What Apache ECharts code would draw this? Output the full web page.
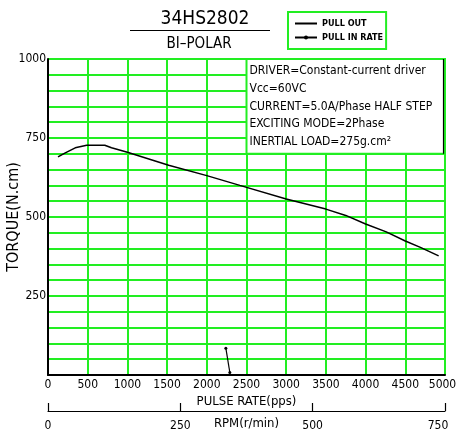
<!DOCTYPE html>
<html>
<head>
<meta charset="utf-8">
<script src="https://cdn.jsdelivr.net/npm/echarts@6/dist/echarts.min.js"></script>
<style>
html,body{margin:0;padding:0;background:#fff;}
#chart{width:456px;height:436px;}
</style>
</head>
<body>
<div id="chart"></div>
<script>
// ---- data ----
const pullOutPps    = [126, 218, 343, 487, 715, 800, 1000, 1520, 2000, 2416, 3000, 3500, 3750, 4000, 4260, 4500, 4690, 4920];
const pullOutTorque = [690, 703, 719, 727, 727, 719, 705, 664, 631, 600, 557, 525, 505, 478, 453, 424, 404, 377];
const pullInPps     = [2240, 2290];
const pullInTorque  = [85, 8];
const torqueTickLabels = [250, 500, 750, 1000];
const ppsTickLabels = [0, 500, 1000, 1500, 2000, 2500, 3000, 3500, 4000, 4500, 5000];
const rpmTickLabels = [0, 250, 500, 750];
const infoLines = [
  'DRIVER=Constant-current driver',
  'Vcc=60VC',
  'CURRENT=5.0A/Phase HALF STEP',
  'EXCITING MODE=2Phase',
  'INERTIAL LOAD=275g.cm\u00B2'
];
const infoBox = [[2500, 1000], [5000, 700]];
const infoBoxEdge = [[4982, 1000], [4982, 700]];

const FONT = "'DejaVu Sans Condensed','Liberation Sans',sans-serif";
const GREEN = '#22ee22';

const chart = echarts.init(document.getElementById('chart'), null, {renderer: 'canvas'});
chart.setOption({
  animation: false,
  backgroundColor: '#fff',
  textStyle: {fontFamily: FONT},
  graphic: [
    {type: 'text', style: {x: 205, y: 19, text: '34HS2802', font: '19px ' + FONT, fill: '#000', align: 'center', verticalAlign: 'middle'}},
    {type: 'line', shape: {x1: 130, y1: 30.5, x2: 270, y2: 30.5}, style: {stroke: '#000', lineWidth: 1.2}},
    {type: 'text', style: {x: 199, y: 44, text: 'BI\u2013POLAR', font: '15px ' + FONT, fill: '#000', align: 'center', verticalAlign: 'middle'}}
  ],
  legend: {
    left: 288, top: 12, orient: 'vertical',
    borderColor: GREEN, borderWidth: 2, padding: [7, 3, 7, 6],
    itemWidth: 22, itemHeight: 5, itemGap: 5,
    textStyle: {fontSize: 9, fontWeight: 'bold', color: '#000', fontFamily: FONT},
    data: [
      {name: 'PULL OUT', itemStyle: {color: 'rgba(0,0,0,0)', borderColor: 'rgba(0,0,0,0)', borderWidth: 0}},
      {name: 'PULL IN RATE'}
    ]
  },
  grid: {left: 48, right: 11, top: 59, bottom: 61, outerBoundsMode: 'none', containLabel: false},
  xAxis: [
    {
      type: 'value', min: 0, max: 5000, interval: 500, position: 'bottom',
      name: 'PULSE RATE(pps)', nameLocation: 'middle', nameGap: 20, nameMoveOverlap: false,
      nameTextStyle: {fontSize: 13, color: '#000', fontFamily: FONT, verticalAlign: 'top'},
      axisLine: {lineStyle: {color: '#000', width: 2}},
      axisTick: {show: false},
      axisLabel: {color: '#000', fontSize: 12, margin: 4, fontFamily: FONT,
        formatter: v => !ppsTickLabels.includes(v) ? '' : (v === 5000 ? '{last|' + v + '}' : String(v)),
        rich: {last: {fontSize: 12, fontFamily: FONT, color: '#000', padding: [0, 5, 0, 0]}}},
      splitLine: {show: true, lineStyle: {color: GREEN, width: 2}}
    },
    {
      type: 'value', min: 0, max: 750, interval: 250, position: 'bottom', offset: 36,
      name: 'RPM(r/min)', nameLocation: 'middle', nameGap: 6, nameMoveOverlap: false,
      nameTextStyle: {fontSize: 13, color: '#000', fontFamily: FONT, verticalAlign: 'top'},
      axisLine: {lineStyle: {color: '#000', width: 1.2}},
      axisTick: {show: true, inside: true, length: 8, lineStyle: {color: '#000', width: 1.2}},
      axisLabel: {color: '#000', fontSize: 12, margin: 9, fontFamily: FONT,
        formatter: v => !rpmTickLabels.includes(v) ? '' : (v === 750 ? '{last|' + v + '}' : String(v)),
        rich: {last: {fontSize: 12, fontFamily: FONT, color: '#000', padding: [0, 14, 0, 0]}}},
      splitLine: {show: false}
    }
  ],
  yAxis: {
    type: 'value', min: 0, max: 1000, interval: 50,
    name: 'TORQUE(N.cm)', nameLocation: 'middle', nameGap: 26, nameRotate: 90, nameMoveOverlap: false,
    nameTextStyle: {fontSize: 16, color: '#000', fontFamily: FONT},
    axisLine: {show: true, lineStyle: {color: '#000', width: 2}},
    axisTick: {show: false},
    axisLabel: {color: '#000', fontSize: 12, margin: 2, fontFamily: FONT,
      formatter: v => torqueTickLabels.includes(v) ? String(v) : ''},
    splitLine: {show: true, lineStyle: {color: GREEN, width: 2}}
  },
  series: [
    {
      name: 'PULL OUT', type: 'line', xAxisIndex: 0,
      data: pullOutPps.map((p, i) => [p, pullOutTorque[i]]),
      showSymbol: false, symbol: 'none',
      lineStyle: {color: '#000', width: 1.5},
      itemStyle: {color: '#000'},
      markArea: {
        silent: true,
        itemStyle: {color: '#fff', borderColor: GREEN, borderWidth: 2},
        label: {
          show: true, position: 'insideTopLeft', distance: 4,
          color: '#000', fontSize: 12, lineHeight: 17.8, fontFamily: FONT,
          formatter: infoLines.join('\n')
        },
        data: [[{coord: infoBox[0]}, {coord: infoBox[1]}]]
      },
      markLine: {
        silent: true, symbol: ['none', 'none'], label: {show: false},
        lineStyle: {color: '#000', width: 1.2, type: 'solid'},
        data: [[{coord: infoBoxEdge[0]}, {coord: infoBoxEdge[1]}]]
      }
    },
    {
      name: 'PULL IN RATE', type: 'line', xAxisIndex: 0,
      data: pullInPps.map((p, i) => [p, pullInTorque[i]]),
      symbol: 'circle', symbolSize: 3, showSymbol: true,
      lineStyle: {color: '#000', width: 1.2},
      itemStyle: {color: '#000'}
    }
  ]
});
</script>
</body>
</html>
